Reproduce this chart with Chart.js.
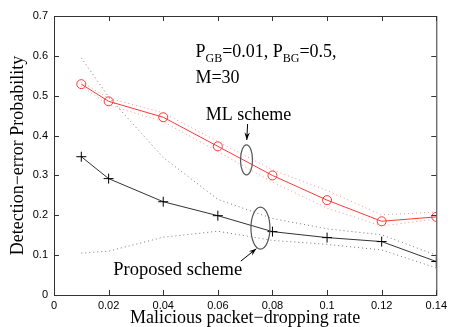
<!DOCTYPE html>
<html lang="en">
<head>
    <meta charset="UTF-8">
    <title>Detection-error Probability</title>
    <script src="https://cdn.jsdelivr.net/npm/chart.js"></script>
    <style>
        body { margin: 0; background: #fff; }
        #wrap { width: 451px; height: 327px; }
    </style>
</head>
<body>
    <div id="wrap"><canvas id="chart" width="451" height="327"></canvas></div>
    <script>
        // data
        const rates = [0.01, 0.02, 0.04, 0.06, 0.08, 0.1, 0.12, 0.14];
        const mlScheme = [0.529, 0.486, 0.446, 0.373, 0.300, 0.238, 0.185, 0.196];
        const mlUpper = [0.534, 0.494, 0.457, 0.385, 0.314, 0.262, 0.201, 0.208];
        const mlLower = [0.524, 0.477, 0.435, 0.360, 0.283, 0.218, 0.173, 0.191];
        const proposed = [0.347, 0.292, 0.234, 0.199, 0.159, 0.144, 0.134, 0.084];
        const propUpper = [0.595, 0.497, 0.345, 0.240, 0.192, 0.166, 0.151, 0.100];
        const propLower = [0.105, 0.110, 0.145, 0.160, 0.137, 0.127, 0.113, 0.068];
        const xTicks = [0, 0.02, 0.04, 0.06, 0.08, 0.1, 0.12, 0.14];
        const yTicks = [0, 0.1, 0.2, 0.3, 0.4, 0.5, 0.6, 0.7];

        const pts = arr => arr.map((v, i) => ({x: rates[i], y: v}));
        const serif = 'Liberation Serif, Times New Roman, serif';
        const RED = 'rgb(255, 55, 55)';

        const dotted = (arr, color) => ({
            data: pts(arr), borderColor: color, borderWidth: 1,
            borderDash: [1, 3], pointRadius: 0, fill: false
        });

        // box, inward ticks and the text/ellipse annotations
        const decor = {
            id: 'decor',
            afterDraw(chart) {
                const {ctx, chartArea: a, scales: {x, y}} = chart;
                const fnt = size => Chart.helpers.toFont({family: serif, size: size}).string;
                ctx.save();
                ctx.strokeStyle = '#333';
                ctx.lineWidth = 1;
                ctx.strokeRect(a.left + 0.5, a.top + 0.5, a.right - a.left, a.bottom - a.top);
                ctx.beginPath();
                xTicks.forEach(v => {
                    const px = Math.round(x.getPixelForValue(v)) + 0.5;
                    ctx.moveTo(px, a.bottom); ctx.lineTo(px, a.bottom - 5);
                    ctx.moveTo(px, a.top); ctx.lineTo(px, a.top + 5);
                });
                yTicks.forEach(v => {
                    const py = Math.round(y.getPixelForValue(v)) + 0.5;
                    ctx.moveTo(a.left, py); ctx.lineTo(a.left + 5, py);
                    ctx.moveTo(a.right, py); ctx.lineTo(a.right - 5, py);
                });
                ctx.stroke();

                // parameter text
                ctx.fillStyle = '#000';
                ctx.textBaseline = 'alphabetic';
                const big = fnt(18), small = fnt(12);
                let cx = x.getPixelForValue(0.0518), by = y.getPixelForValue(0.598);
                const parts = [['P', big, 0], ['GB', small, 5], ['=0.01, P', big, 0], ['BG', small, 5], ['=0.5,', big, 0]];
                parts.forEach(([t, f, dy]) => {
                    ctx.font = f;
                    ctx.fillText(t, cx, by + dy);
                    cx += ctx.measureText(t).width;
                });
                ctx.font = big;
                ctx.fillText('M=30', x.getPixelForValue(0.0518), y.getPixelForValue(0.533));

                ctx.textAlign = 'center';
                ctx.textBaseline = 'middle';
                ctx.fillText('ML scheme', x.getPixelForValue(0.0712), y.getPixelForValue(0.452));
                ctx.font = fnt(18.5);
                ctx.fillText('Proposed scheme', x.getPixelForValue(0.0453), y.getPixelForValue(0.063));

                // ellipses
                ctx.strokeStyle = '#555';
                ctx.lineWidth = 1.2;
                ctx.beginPath();
                ctx.ellipse(x.getPixelForValue(0.0705), y.getPixelForValue(0.339), 6, 15, 0, 0, Math.PI * 2);
                ctx.stroke();
                ctx.beginPath();
                ctx.ellipse(x.getPixelForValue(0.0756), y.getPixelForValue(0.168), 9.5, 21, 0, 0, Math.PI * 2);
                ctx.stroke();

                // arrows
                const arrow = (x0, y0, x1, y1) => {
                    const ang = Math.atan2(y1 - y0, x1 - x0);
                    ctx.strokeStyle = '#000';
                    ctx.fillStyle = '#000';
                    ctx.lineWidth = 1;
                    ctx.beginPath(); ctx.moveTo(x0, y0); ctx.lineTo(x1, y1); ctx.stroke();
                    ctx.beginPath();
                    ctx.moveTo(x1, y1);
                    ctx.lineTo(x1 - 8 * Math.cos(ang - 0.35), y1 - 8 * Math.sin(ang - 0.35));
                    ctx.lineTo(x1 - 5 * Math.cos(ang), y1 - 5 * Math.sin(ang));
                    ctx.lineTo(x1 - 8 * Math.cos(ang + 0.35), y1 - 8 * Math.sin(ang + 0.35));
                    ctx.closePath(); ctx.fill();
                };
                arrow(x.getPixelForValue(0.0709), y.getPixelForValue(0.429),
                      x.getPixelForValue(0.0706), y.getPixelForValue(0.389));
                arrow(x.getPixelForValue(0.0684), y.getPixelForValue(0.085),
                      x.getPixelForValue(0.0741), y.getPixelForValue(0.116));
                ctx.restore();
            }
        };

        new Chart(document.getElementById('chart').getContext('2d'), {
            type: 'line',
            data: {
                datasets: [
                    dotted(propUpper, '#777'),
                    dotted(propLower, '#777'),
                    dotted(mlUpper, 'rgba(255, 110, 110, 0.75)'),
                    dotted(mlLower, 'rgba(255, 110, 110, 0.75)'),
                    {
                        data: pts(mlScheme), borderColor: RED, borderWidth: 1,
                        pointStyle: 'circle', pointRadius: 4.5, pointBorderColor: RED,
                        pointBackgroundColor: 'rgba(0,0,0,0)', pointBorderWidth: 1, fill: false
                    },
                    {
                        data: pts(proposed), borderColor: '#333', borderWidth: 1,
                        pointStyle: 'cross', pointRadius: 5, pointBorderColor: '#000',
                        pointBorderWidth: 1, fill: false
                    }
                ]
            },
            options: {
                responsive: false,
                animation: false,
                layout: { padding: { top: 16, right: 12, left: 0, bottom: 0 } },
                plugins: { legend: { display: false }, tooltip: { enabled: false } },
                scales: {
                    x: {
                        type: 'linear', min: 0, max: 0.14,
                        afterBuildTicks: s => { s.ticks = xTicks.map(v => ({value: v})); },
                        afterFit: s => { s.height = 32; },
                        grid: { display: false, drawTicks: false },
                        border: { display: false },
                        ticks: {
                            padding: 4, color: '#000',
                            font: { family: 'Liberation Sans, Arial, sans-serif', size: 11 },
                            callback: v => String(parseFloat(v.toFixed(2)))
                        },
                        title: {
                            display: true, text: 'Malicious packet\u2212dropping rate', color: '#000',
                            font: { family: serif, size: 18, lineHeight: 1 }, padding: 0
                        }
                    },
                    y: {
                        type: 'linear', min: 0, max: 0.7,
                        afterBuildTicks: s => { s.ticks = yTicks.map(v => ({value: v})); },
                        afterFit: s => { s.width = 54; },
                        grid: { display: false, drawTicks: false },
                        border: { display: false },
                        ticks: {
                            padding: 6, color: '#000',
                            font: { family: 'Liberation Sans, Arial, sans-serif', size: 11 },
                            callback: v => String(parseFloat(v.toFixed(2)))
                        },
                        title: {
                            display: true, text: 'Detection\u2212error Probability', color: '#000',
                            font: { family: serif, size: 18, lineHeight: 1 }, padding: { top: 9, bottom: 0 }
                        }
                    }
                }
            },
            plugins: [decor]
        });
    </script>
</body>
</html>
